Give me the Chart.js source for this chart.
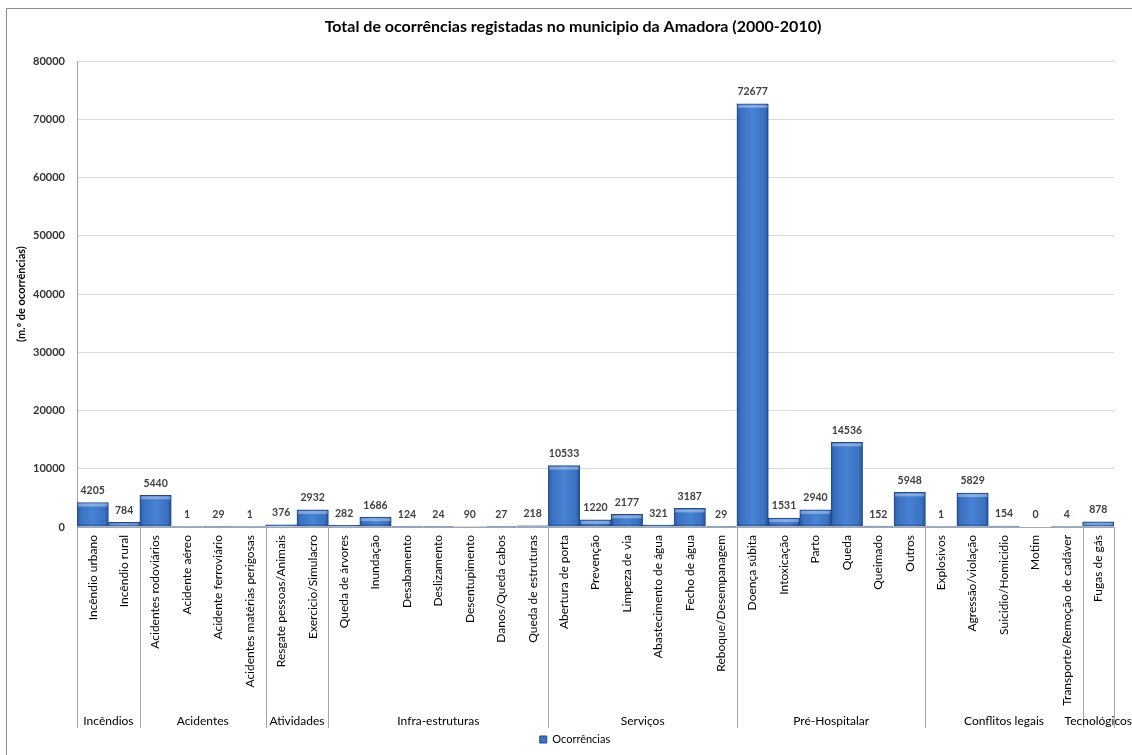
<!DOCTYPE html>
<html>
<head>
<meta charset="utf-8">
<script src="https://cdn.jsdelivr.net/npm/chart.js@4"></script>
<style>
html,body{margin:0;padding:0;background:#fff;overflow:hidden;}
#wrap{position:absolute;left:0;top:0;width:1132px;height:755px;overflow:hidden;}
#frame{position:absolute;left:6px;top:8px;width:1140px;height:760px;border:1px solid #8c8c8c;pointer-events:none;}
canvas{position:absolute;left:0;top:0;}
</style>
</head>
<body>
<div id="wrap"><canvas id="c" width="1132" height="755"></canvas><div id="frame"></div></div>
<script>
const chartTitle = 'Total de ocorrências registadas no municipio da Amadora (2000-2010)';
const yAxisTitle = '(m.º de ocorrências)';
const seriesName = 'Ocorrências';
const categories = [
  'Incêndio urbano','Incêndio rural',
  'Acidentes rodoviários','Acidente aéreo','Acidente ferroviário','Acidentes matérias perigosas',
  'Resgate pessoas/Animais','Exercicio/Simulacro',
  'Queda de árvores','Inundação','Desabamento','Deslizamento','Desentupimento','Danos/Queda cabos','Queda de estruturas',
  'Abertura de porta','Prevenção','Limpeza de via','Abastecimento de água','Fecho de água','Reboque/Desempanagem',
  'Doença súbita','Intoxicação','Parto','Queda','Queimado','Outros',
  'Explosivos','Agressão/violação','Suicidio/Homicidio','Motim','Transporte/Remoção de cadáver',
  'Fugas de gás'
];
const values = [
  4205, 784,
  5440, 1, 29, 1,
  376, 2932,
  282, 1686, 124, 24, 90, 27, 218,
  10533, 1220, 2177, 321, 3187, 29,
  72677, 1531, 2940, 14536, 152, 5948,
  1, 5829, 154, 0, 4,
  878
];
const groupNames = ['Incêndios','Acidentes','Atividades','Infra-estruturas','Serviços','Pré-Hospitalar','Conflitos legais','Tecnológicos'];
const groupSizes = [2, 4, 2, 7, 6, 6, 5, 1];
const yTickValues = [0, 10000, 20000, 30000, 40000, 50000, 60000, 70000, 80000];

const FONT = 'Lato, "Open Sans", sans-serif';

function barFill(ctx) {
  const chart = ctx.chart;
  const xs = chart.scales && chart.scales.x;
  if (!chart.chartArea || !xs || ctx.type !== 'data') return '#3F75C4';
  const w = xs.width / categories.length;
  const c = xs.getPixelForValue(ctx.dataIndex);
  const g = chart.ctx.createLinearGradient(c - w / 2, 0, c + w / 2, 0);
  g.addColorStop(0, '#2a5aa3');
  g.addColorStop(0.12, '#3b71c1');
  g.addColorStop(0.5, '#4782d3');
  g.addColorStop(0.88, '#3b71c1');
  g.addColorStop(1, '#24508f');
  return g;
}

const groupPlugin = {
  id: 'groups',
  afterLayout(chart) {
    if (chart.titleBlock) { chart.titleBlock.left = 14; chart.titleBlock.right = 1132; }
    if (chart.legend) { chart.legend.left = 50; chart.legend.right = 1100; }
  },
  afterDatasetsDraw(chart) {
    const ctx = chart.ctx;
    const meta = chart.getDatasetMeta(0);
    ctx.save();
    meta.data.forEach((bar) => {
      const h = bar.base - bar.y;
      if (h > 2) {
        ctx.fillStyle = 'rgba(255,255,255,0.35)';
        ctx.fillRect(bar.x - bar.width / 2 + 1, bar.y + 1, bar.width - 2, Math.min(3, h - 2));
        ctx.fillStyle = 'rgba(10,30,70,0.25)';
        ctx.fillRect(bar.x - bar.width / 2 + 1, bar.base - Math.min(2, h - 1), bar.width - 2, Math.min(2, h - 1));
      }
    });
    ctx.font = 'bold 10.5px ' + FONT;
    ctx.fillStyle = '#404040';
    ctx.textAlign = 'center';
    ctx.textBaseline = 'middle';
    meta.data.forEach((bar, i) => {
      ctx.fillText(String(values[i]), bar.x, bar.y - 12);
    });
    ctx.restore();
  },
  afterDraw(chart) {
    const ctx = chart.ctx;
    const xs = chart.scales.x;
    const n = categories.length;
    const w = xs.width / n;
    const yTop = chart.chartArea.bottom;
    const yBot = 728;
    ctx.save();
    ctx.strokeStyle = '#a6a6a6';
    ctx.lineWidth = 1;
    let k = 0;
    const edges = [0];
    groupSizes.forEach(s => { k += s; edges.push(k); });
    edges.forEach(e => {
      const x = Math.round(xs.left + e * w) + 0.5;
      ctx.beginPath();
      ctx.moveTo(x, yTop);
      ctx.lineTo(x, yBot);
      ctx.stroke();
    });
    ctx.font = '12px ' + FONT;
    ctx.fillStyle = '#000';
    ctx.textAlign = 'center';
    ctx.textBaseline = 'middle';
    for (let g = 0; g < groupNames.length; g++) {
      const cx = xs.left + (edges[g] + edges[g + 1]) / 2 * w;
      ctx.fillText(groupNames[g], cx, 721);
    }
    ctx.restore();
  }
};

new Chart(document.getElementById('c'), {
  type: 'bar',
  data: {
    labels: categories,
    datasets: [{
      label: seriesName,
      data: values,
      backgroundColor: barFill,
      borderColor: '#1f4a8a',
      borderWidth: 1,
      barPercentage: 1,
      categoryPercentage: 1
    }]
  },
  options: {
    responsive: false,
    animation: false,
    devicePixelRatio: 1,
    layout: { padding: { left: 0, right: 18, top: 0, bottom: 0 } },
    plugins: {
      title: {
        display: true,
        text: chartTitle,
        color: '#000',
        font: { family: FONT, size: 16, weight: 'bold' },
        padding: { top: 17, bottom: 25 }
      },
      legend: {
        position: 'bottom',
        labels: {
          color: '#000',
          font: { family: FONT, size: 11 },
          boxWidth: 7,
          boxHeight: 7,
          padding: 10,
          generateLabels: () => [{
            text: seriesName,
            fillStyle: '#3d74c4',
            strokeStyle: '#1f4a8a',
            lineWidth: 1,
            datasetIndex: 0
          }]
        }
      },
      tooltip: { enabled: false }
    },
    scales: {
      x: {
        grid: { display: false, drawTicks: false },
        border: { display: true, color: '#a6a6a6' },
        ticks: {
          autoSkip: false,
          maxRotation: 90,
          minRotation: 90,
          padding: 8,
          color: '#000',
          font: { family: FONT, size: 12 }
        },
        afterFit(scale) { scale.height = 197; }
      },
      y: {
        min: 0,
        max: 80000,
        afterBuildTicks(scale) { scale.ticks = yTickValues.map(v => ({ value: v })); },
        grid: { color: '#d9d9d9', drawTicks: false },
        border: { display: true, color: '#a6a6a6' },
        ticks: {
          padding: 12,
          color: '#333',
          font: { family: FONT, size: 11, weight: 'bold' },
          callback: (v) => String(v)
        },
        title: {
          display: true,
          text: yAxisTitle,
          color: '#000',
          font: { family: FONT, size: 11, weight: 'bold' },
          padding: { top: 15, bottom: 4 }
        },
        afterFit(scale) { scale.width = 77; }
      }
    }
  },
  plugins: [groupPlugin]
});
</script>
</body>
</html>
